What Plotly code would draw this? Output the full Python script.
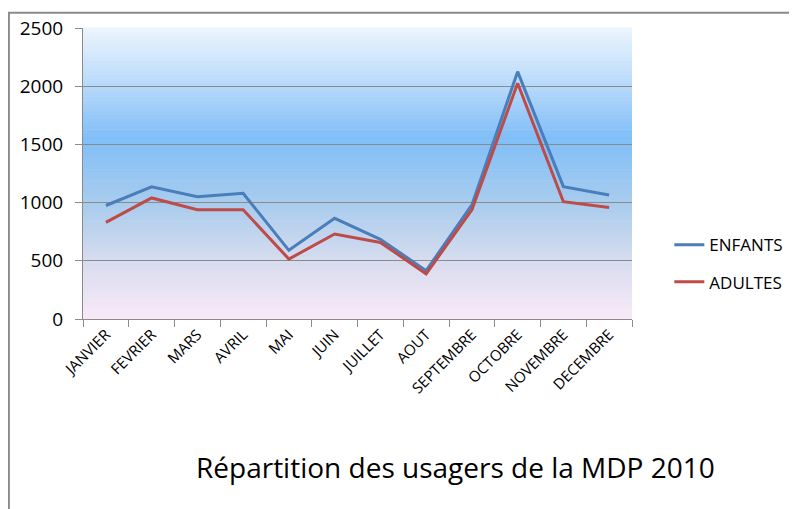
import plotly.graph_objects as go

mois = ["JANVIER", "FEVRIER", "MARS", "AVRIL", "MAI", "JUIN", "JUILLET",
        "AOUT", "SEPTEMBRE", "OCTOBRE", "NOVEMBRE", "DECEMBRE"]
enfants = [975, 1135, 1050, 1080, 590, 865, 685, 415, 980, 2125, 1137, 1065]
adultes = [830, 1040, 938, 938, 515, 730, 658, 388, 938, 2025, 1008, 958]

titre = "Répartition des usagers de la MDP 2010"

# dégradé du fond (bas -> haut)
stops = [(0.0, (250, 233, 248)), (0.2, (214, 220, 238)), (0.4, (168, 204, 238)),
         (0.62, (128, 190, 247)), (0.8, (182, 217, 250)), (1.0, (236, 245, 253))]


def couleur(t):
    for (t0, c0), (t1, c1) in zip(stops, stops[1:]):
        if t0 <= t <= t1:
            f = (t - t0) / (t1 - t0)
            return "rgb(%d,%d,%d)" % tuple(round(a + (b - a) * f) for a, b in zip(c0, c1))
    return "rgb(%d,%d,%d)" % stops[-1][1]


n = 80
shapes = []
for i in range(n):
    shapes.append(dict(type="rect", xref="paper", yref="paper", x0=0, x1=1,
                       y0=i / n, y1=(i + 1) / n + 0.002, line_width=0,
                       fillcolor=couleur((i + 0.5) / n), layer="below"))
# cadre extérieur
shapes.append(dict(type="rect", xref="paper", yref="paper", x0=-0.135, x1=1.6,
                   y0=-1.2, y1=1.052, line=dict(color="#8a8a8a", width=2),
                   fillcolor="rgba(0,0,0,0)", layer="below"))

fig = go.Figure()
fig.add_trace(go.Scatter(x=mois, y=enfants, mode="lines", name="ENFANTS",
                         line=dict(color="#4A7EBB", width=3), legendgroup="a"))
fig.add_trace(go.Scatter(x=mois, y=adultes, mode="lines", name="ADULTES",
                         line=dict(color="#BE4B48", width=3), legendgroup="b"))

# la page ajoute une marge de 8 px autour du graphique
fig.update_layout(
    width=789, height=501,
    margin=dict(l=75, r=165, t=20, b=190, autoexpand=False),
    paper_bgcolor="white", plot_bgcolor="rgba(0,0,0,0)",
    font=dict(family="Open Sans, Noto Sans, sans-serif", color="#000"),
    shapes=shapes,
    showlegend=True,
    legend=dict(x=1.068, y=0.19, xanchor="left", yanchor="middle",
                font=dict(size=17), tracegroupgap=12, bgcolor="rgba(0,0,0,0)"),
    annotations=[dict(text=titre, xref="paper", yref="paper", x=0.679, y=-0.51,
                      xanchor="center", yanchor="middle", showarrow=False,
                      font=dict(size=28))],
)
fig.update_xaxes(type="category", tickangle=-45, tickson="boundaries",
                 ticks="outside", ticklen=7, tickcolor="#8a8a8a",
                 showline=True, linecolor="#8a8a8a", showgrid=False,
                 tickfont=dict(size=15), range=[-0.5, 11.5], automargin=False)
fig.update_yaxes(range=[0, 2500], tickvals=[0, 500, 1000, 1500, 2000, 2500],
                 ticks="outside", ticklen=7, tickcolor="#8a8a8a",
                 showline=True, linecolor="#8a8a8a", gridcolor="#8a8a8a",
                 gridwidth=1, zeroline=False, tickfont=dict(size=19),
                 ticklabelstandoff=8, automargin=False)

fig.write_html("out.html")
